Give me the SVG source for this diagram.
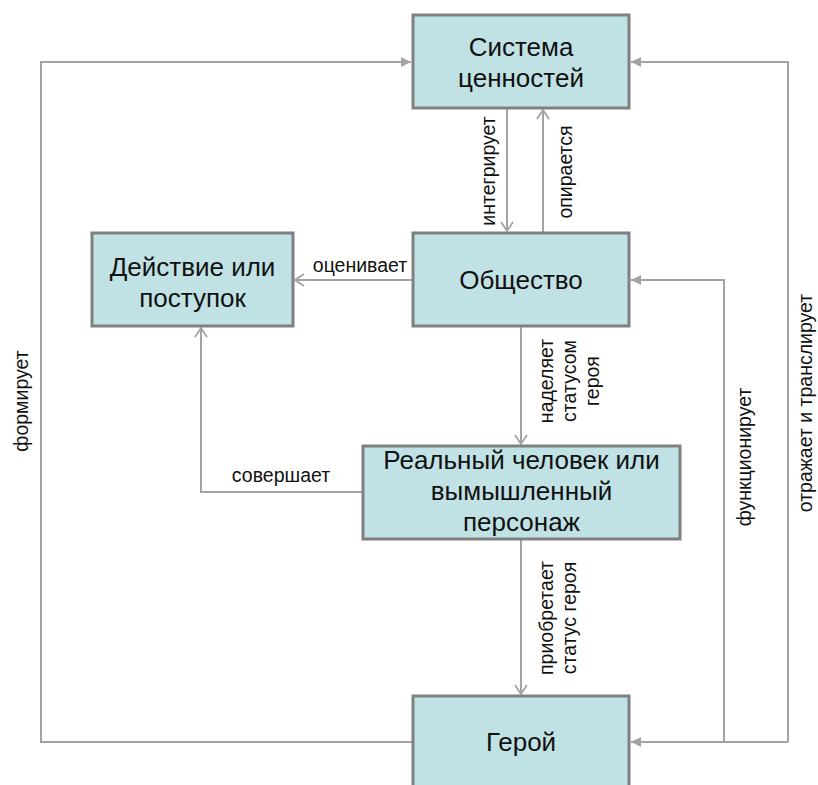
<svg xmlns="http://www.w3.org/2000/svg" width="818" height="785" viewBox="0 0 818 785">
<defs>
<style>
.box{fill:#C0E2E4;stroke:#808080;stroke-width:3}
.bt{font-family:"Liberation Sans",Arial,sans-serif;font-size:26px;fill:#111;text-anchor:middle}
.lb{font-family:"Liberation Sans",Arial,sans-serif;font-size:19.5px;fill:#111;text-anchor:middle}
.cn{fill:none;stroke:#A3A3A3;stroke-width:2}
</style>
<marker id="chev" markerUnits="userSpaceOnUse" markerWidth="12" markerHeight="14" viewBox="0 0 12 14" refX="11" refY="7" orient="auto">
<path d="M2,1 L11,7 L2,13" fill="none" stroke="#A3A3A3" stroke-width="1.8"/>
</marker>
<marker id="tri" markerUnits="userSpaceOnUse" markerWidth="10" markerHeight="10" viewBox="0 0 10 10" refX="10" refY="5" orient="auto">
<path d="M0,0 L10,5 L0,10 z" fill="#A3A3A3"/>
</marker>
</defs>
<rect width="818" height="785" fill="#fff"/>
<g id="connectors">
<path class="cn" d="M507,108 V231" marker-end="url(#chev)"/>
<path class="cn" d="M543,233 V110" marker-end="url(#chev)"/>
<path class="cn" d="M413,280 H295" marker-end="url(#chev)"/>
<path class="cn" d="M521,326 V444" marker-end="url(#chev)"/>
<path class="cn" d="M363,492 H201 V328" marker-end="url(#chev)"/>
<path class="cn" d="M521,539 V694" marker-end="url(#chev)"/>
<path class="cn" d="M413,742 H41 V62 H411" marker-end="url(#tri)"/>
<path class="cn" d="M788,742 H631" marker-end="url(#tri)"/>
<path class="cn" d="M788,742 V62 H631" marker-end="url(#tri)"/>
<path class="cn" d="M724,742 V280 H631" marker-end="url(#tri)"/>
<text class="lb" transform="translate(495,171) rotate(-90)">интегрирует</text>
<text class="lb" transform="translate(572,172) rotate(-90)">опирается</text>
<text class="lb" x="360" y="272">оценивает</text>
<text class="lb" transform="translate(553,381) rotate(-90)"><tspan x="0" y="0">наделяет</tspan><tspan x="0" y="23">статусом</tspan><tspan x="0" y="46">героя</tspan></text>
<text class="lb" x="281" y="482">совершает</text>
<text class="lb" transform="translate(553,618) rotate(-90)"><tspan x="0" y="0">приобретает</tspan><tspan x="0" y="23">статус героя</tspan></text>
<text class="lb" transform="translate(28,401) rotate(-90)">формирует</text>
<text class="lb" transform="translate(751,457) rotate(-90)">функционирует</text>
<text class="lb" transform="translate(812,403) rotate(-90)">отражает и транслирует</text>
</g>
<g id="sistema">
<rect class="box" x="413" y="15" width="216" height="93"/>
<text class="bt" x="521" y="56">Система</text>
<text class="bt" x="521" y="87">ценностей</text>
</g>
<g id="obshchestvo">
<rect class="box" x="413" y="233" width="216" height="93"/>
<text class="bt" x="521" y="289">Общество</text>
</g>
<g id="deistvie">
<rect class="box" x="92" y="233" width="201" height="93"/>
<text class="bt" x="192.5" y="276">Действие или</text>
<text class="bt" x="192.5" y="307">поступок</text>
</g>
<g id="chelovek">
<rect class="box" x="363" y="446" width="317" height="93"/>
<text class="bt" x="521.5" y="469">Реальный человек или</text>
<text class="bt" x="521.5" y="500">вымышленный</text>
<text class="bt" x="521.5" y="531">персонаж</text>
</g>
<g id="geroi">
<rect class="box" x="413" y="696" width="216" height="93"/>
<text class="bt" x="521" y="751">Герой</text>
</g>
</svg>
